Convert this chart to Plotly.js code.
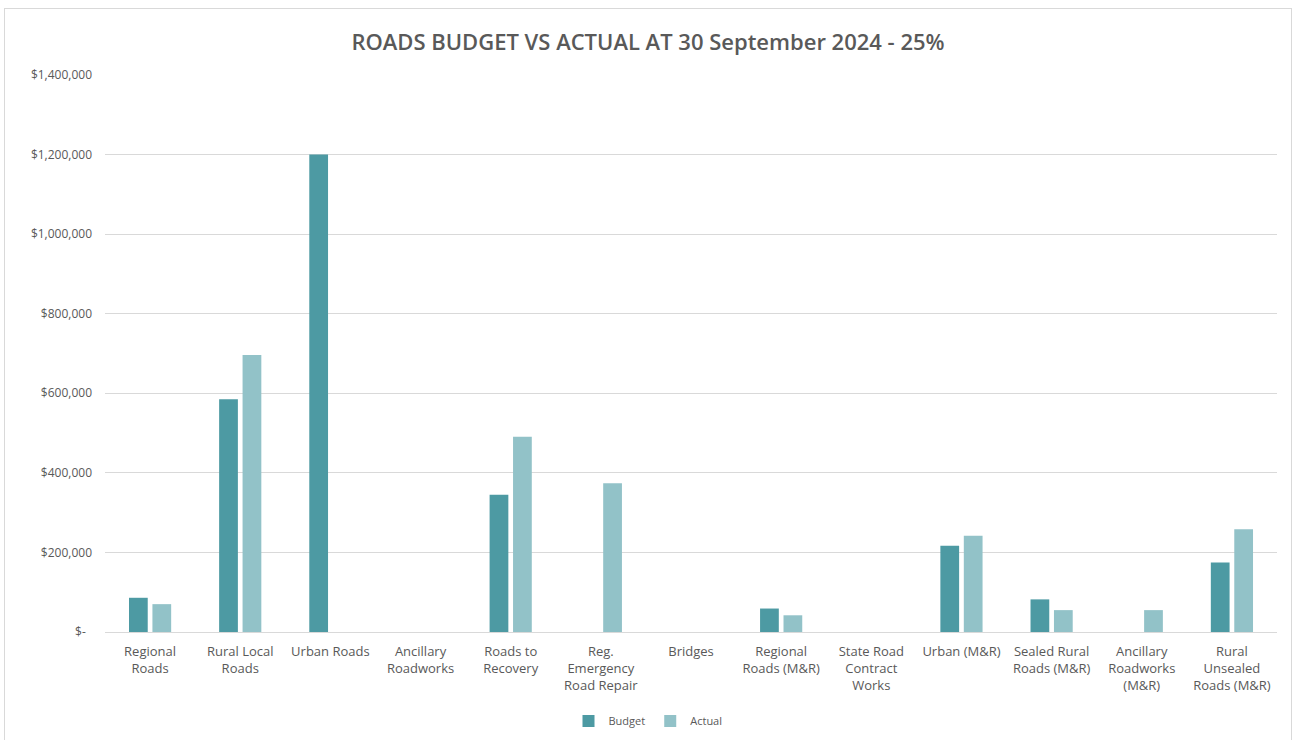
<!DOCTYPE html>
<html>
<head>
<meta charset="utf-8">
<script src="https://cdn.plot.ly/plotly-3.0.1.min.js"></script>
<style>
  html, body { margin: 0; padding: 0; background: #ffffff; overflow: hidden; }
  #frame { position: absolute; left: 4px; top: 8px; border: 1px solid #d9d9d9; background: #fff; }
  #chart { width: 1286px; height: 733px; }
</style>
</head>
<body>
<div id="frame"><div id="chart"></div></div>
<script>
const categories = [
  "Regional<br>Roads",
  "Rural Local<br>Roads",
  "Urban Roads",
  "Ancillary<br>Roadworks",
  "Roads to<br>Recovery",
  "Reg.<br>Emergency<br>Road Repair",
  "Bridges",
  "Regional<br>Roads (M&R)",
  "State Road<br>Contract<br>Works",
  "Urban (M&R)",
  "Sealed Rural<br>Roads (M&R)",
  "Ancillary<br>Roadworks<br>(M&R)",
  "Rural<br>Unsealed<br>Roads (M&R)"
];
const budget = [86000, 585000, 1200000, 0, 345000, 0, 0, 59000, 0, 217000, 82000, 0, 175000];
const actual = [70000, 696000, 0, 0, 491000, 374000, 0, 42000, 0, 242000, 55000, 55000, 258000];
const yTickVals = [0, 200000, 400000, 600000, 800000, 1000000, 1200000, 1400000];
const yTickText = ["$-\u00a0\u00a0", "$200,000", "$400,000", "$600,000", "$800,000", "$1,000,000", "$1,200,000", "$1,400,000"];
const seriesNames = ["Budget", "Actual"];
const titleText = "ROADS BUDGET VS ACTUAL AT 30 September 2024 - 25%";

const labelFont = { family: "Open Sans, sans-serif", size: 12, color: "#595959" };

const traces = [
  { type: "bar", name: seriesNames[0], x: categories, y: budget, marker: { color: "#4d9aa3" }, hoverinfo: "x+y" },
  { type: "bar", name: seriesNames[1], x: categories, y: actual, marker: { color: "#92c2c8" }, hoverinfo: "x+y" }
];

const layout = {
  width: 1286,
  height: 733,
  paper_bgcolor: "#ffffff",
  plot_bgcolor: "#ffffff",
  margin: { l: 100, r: 14, t: 66, b: 110 },
  barmode: "group",
  bargap: 0.48,
  bargroupgap: 0.2,
  title: {
    text: titleText,
    font: { family: "Open Sans, sans-serif", size: 22, color: "#595959", weight: 600 },
    x: 0.5, xanchor: "center", xref: "container",
    y: 0.955, yanchor: "middle", yref: "container"
  },
  xaxis: {
    type: "category",
    tickfont: { family: "Open Sans, sans-serif", size: 13, color: "#595959" },
    showgrid: false,
    showline: false,
    ticks: "",
    tickangle: 0,
    ticklabelstandoff: 10,
    automargin: false
  },
  yaxis: {
    range: [0, 1400000],
    tickvals: yTickVals,
    ticktext: yTickText,
    tickfont: labelFont,
    showgrid: true,
    gridcolor: "#d9d9d9",
    gridwidth: 1,
    zeroline: true,
    zerolinecolor: "#d9d9d9",
    zerolinewidth: 1,
    showline: false,
    ticks: "",
    ticklabelstandoff: 12,
    automargin: false,
    fixedrange: true
  },
  legend: {
    orientation: "h",
    x: 0.5, xanchor: "center", xref: "container",
    y: 0.0286, yanchor: "middle", yref: "container",
    font: { family: "Open Sans, sans-serif", size: 11, color: "#595959" },
    itemwidth: 30,
    traceorder: "normal"
  },
  showlegend: true
};

Plotly.newPlot("chart", traces, layout, { displayModeBar: false, staticPlot: true });
</script>
</body>
</html>
